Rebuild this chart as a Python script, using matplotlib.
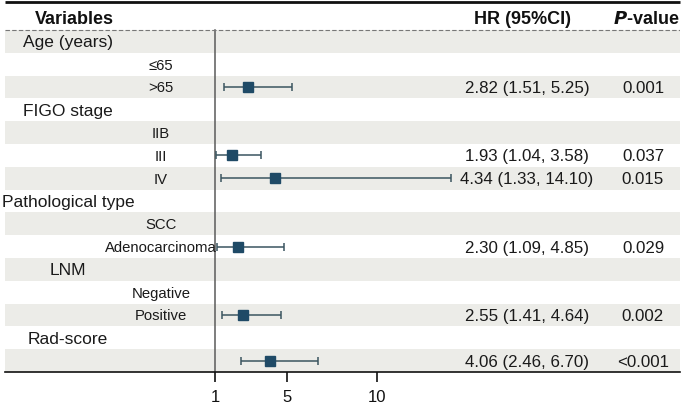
import numpy as np
import matplotlib
matplotlib.use("Agg")
import matplotlib.pyplot as plt

plt.rcParams['font.family'] = ['Liberation Sans', 'DejaVu Sans']

# ---------------- data ----------------
labels = ["Age (years)", "≤65", ">65", "FIGO stage", "IIB", "III", "IV",
          "Pathological type", "SCC", "Adenocarcinoma", "LNM", "Negative",
          "Positive", "Rad-score", ""]
is_header = [True, False, False, True, False, False, False,
             True, False, False, True, False, False, True, False]
hr = [np.nan, np.nan, 2.82, np.nan, np.nan, 1.93, 4.34,
      np.nan, np.nan, 2.30, np.nan, np.nan, 2.55, np.nan, 4.06]
ci_low = [np.nan, np.nan, 1.51, np.nan, np.nan, 1.04, 1.33,
          np.nan, np.nan, 1.09, np.nan, np.nan, 1.41, np.nan, 2.46]
ci_high = [np.nan, np.nan, 5.25, np.nan, np.nan, 3.58, 14.10,
           np.nan, np.nan, 4.85, np.nan, np.nan, 4.64, np.nan, 6.70]
hr_text = ["", "", "2.82 (1.51, 5.25)", "", "", "1.93 (1.04, 3.58)",
           "4.34 (1.33, 14.10)", "", "", "2.30 (1.09, 4.85)", "", "",
           "2.55 (1.41, 4.64)", "", "4.06 (2.46, 6.70)"]
p_text = ["", "", "0.001", "", "", "0.037", "0.015", "", "", "0.029",
          "", "", "0.002", "", "<0.001"]
xticks = [1, 5, 10]
col_titles = ["Variables", "HR (95%CI)", "P-value"]

# ---------------- layout ----------------
W, H = 685, 407
fig = plt.figure(figsize=(W / 100, H / 100), dpi=100)
left_px, right_px = 5, 680
bottom_px = 372
ax = fig.add_axes([left_px / W, (H - bottom_px) / H,
                   (right_px - left_px) / W, bottom_px / H])

ref_px, ref_val, px_per_unit = 215, 1.0, 18.0
def px2x(px):
    return ref_val + (px - ref_px) / px_per_unit

row_h = 22.8
top_rows_px = 30
def py2y(py):
    return (py - top_rows_px) / row_h - 0.5

n = len(labels)
ax.set_xlim(px2x(left_px), px2x(right_px))
ax.set_ylim(py2y(bottom_px), py2y(0))

# shaded bands
for i in range(n):
    if i % 2 == 0:
        ax.axhspan(i - 0.5, i + 0.5, color='#ECECE8', lw=0, zorder=0)

# reference line
ax.plot([1, 1], [n - 0.5, -0.5], color='#5a5a5a', lw=1.1, zorder=2)

# forest points
ys = np.arange(n)
hr_a = np.array(hr); lo_a = np.array(ci_low); hi_a = np.array(ci_high)
m = ~np.isnan(hr_a)
ax.errorbar(hr_a[m], ys[m], xerr=[hr_a[m] - lo_a[m], hi_a[m] - hr_a[m]],
            fmt='none', ecolor='#3B5560', elinewidth=1.1, capsize=3,
            capthick=1.1, zorder=3)
ax.plot(hr_a[m], ys[m], 's', color='#1F4A66', ms=6.8, zorder=4)

# header lines
ax.plot([px2x(left_px), px2x(right_px)], [py2y(2.5)] * 2, color='#111111',
        lw=2.0, clip_on=False, solid_capstyle='butt', zorder=5)
ax.plot([px2x(left_px), px2x(right_px)], [-0.5] * 2, color='#777777',
        lw=0.8, ls=(0, (4, 2)))

# header texts
hy = py2y(17)
kw = dict(ha='center', va='center_baseline', color='#111111')
ax.text(px2x(74), hy, col_titles[0], fontsize=13, fontweight='bold', **kw)
ax.text(px2x(523), hy, col_titles[1], fontsize=13, fontweight='bold', **kw)
ax.text(px2x(646), hy, r"$\bfit{P}$" + "-value", fontsize=13,
        fontweight='bold', **kw)

# row texts
kw = dict(ha='center', va='center_baseline', color='#1a1a1a')
for i in range(n):
    if labels[i]:
        if is_header[i]:
            ax.text(px2x(68), i, labels[i], fontsize=12.5, **kw)
        else:
            ax.text(px2x(161), i, labels[i], fontsize=10.7, **kw)
    if hr_text[i]:
        ax.text(px2x(527), i, hr_text[i], fontsize=12.2, **kw)
    if p_text[i]:
        ax.text(px2x(643), i, p_text[i], fontsize=12.2, **kw)

# axes styling
for s in ['left', 'right', 'top']:
    ax.spines[s].set_visible(False)
ax.spines['bottom'].set_linewidth(1.2)
ax.spines['bottom'].set_color('#111111')
ax.set_yticks([])
ax.set_xticks(xticks)
ax.set_xticklabels([str(t) for t in xticks])
ax.tick_params(axis='x', length=7, width=1.2, pad=6, labelsize=12,
               colors='#111111')

fig.savefig("out.png", dpi=100)
